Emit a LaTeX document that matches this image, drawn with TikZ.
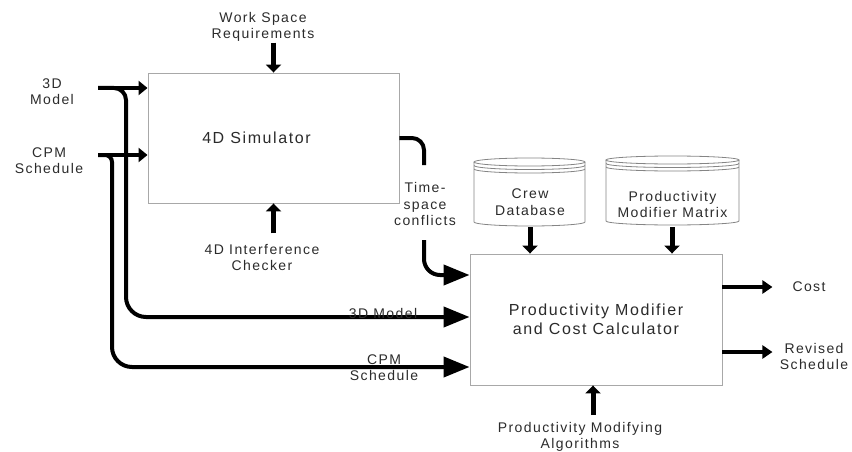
\documentclass[tikz,border=0pt]{standalone}
\usepackage{fontspec}
\setmainfont{Liberation Sans}[LetterSpace=10]
\usetikzlibrary{arrows.meta,calc}
\definecolor{txt}{HTML}{2B2B2B}
\definecolor{boxc}{HTML}{A8A8A8}
\definecolor{cylc}{HTML}{858585}
\begin{document}
\begin{tikzpicture}[x=1pt,y=-1pt,
  small/.style={font=\fontsize{14}{16.5}\selectfont, text=txt, align=center, inner sep=0pt},
  big/.style={font=\fontsize{16}{19}\selectfont, text=txt, align=center},
  procbox/.style={draw=boxc, line width=0.9pt, fill=white, inner sep=0pt},
  cyl/.style={draw=cylc, line width=0.8pt},
  bigarrow/.style={line width=4pt, -{Triangle[length=26pt,width=20pt]}},
  sarrow/.style={line width=4.5pt, -{Triangle[length=9pt,width=14pt]}},
  varrow/.style={line width=5pt, -{Triangle[length=8pt,width=15pt]}},
  oarrow/.style={line width=4pt, -{Triangle[length=10pt,width=13pt]}},
  plainline/.style={line width=4pt}
]
\useasboundingbox (0,0) rectangle (852,452);

% boxes
\node[procbox, minimum width=251pt, minimum height=130pt] (sim) at (273.5,138) {};
\node[big] (simtext) at (256.5,138) {4D Simulator};
\node[procbox, big, minimum width=252pt, minimum height=131pt] (main) at (596,319.5) {Productivity Modifier\\and Cost Calculator};

% cylinders
\fill[white] (474,162) -- (474,222) arc[start angle=180,end angle=360,x radius=55.5pt,y radius=4pt] -- (585,162) -- cycle;
\draw[cyl] (474,162) -- (474,222) arc[start angle=180,end angle=360,x radius=55.5pt,y radius=4pt] -- (585,162);
\draw[cyl] (529.5,162) ellipse[x radius=55.5pt, y radius=4pt];
\draw[cyl] (474,165.5) arc[start angle=180,end angle=360,x radius=55.5pt,y radius=4pt];
\draw[cyl] (474,169) arc[start angle=180,end angle=360,x radius=55.5pt,y radius=4pt];

\fill[white] (606,160) -- (606,221) arc[start angle=180,end angle=360,x radius=66.5pt,y radius=4pt] -- (739,160) -- cycle;
\draw[cyl] (606,160) -- (606,221) arc[start angle=180,end angle=360,x radius=66.5pt,y radius=4pt] -- (739,160);
\draw[cyl] (672.5,160) ellipse[x radius=66.5pt, y radius=4pt];
\draw[cyl] (606,163.5) arc[start angle=180,end angle=360,x radius=66.5pt,y radius=4pt];
\draw[cyl] (606,167) arc[start angle=180,end angle=360,x radius=66.5pt,y radius=4pt];

% labels
\node[small] (wsr) at (263,27) {Work Space\\Requirements};
\node[small] (idc) at (262,257.5) {4D Interference\\Checker};
\node[small] (m3d) at (52,91.5) {3D\\Model};
\node[small] (cpm) at (49,160.5) {CPM\\Schedule};
\node[small] (tsc) at (425,204) {Time-\\space\\conflicts};
\node[small] (cost) at (809,287) {Cost};
\node[small] (rev) at (814,356.5) {Revised\\Schedule};
\node[small] (pma) at (580,437) {Productivity Modifying\\Algorithms};
\node[small] (crew) at (530,202) {Crew\\Database};
\node[small] (pmm) at (672.5,204.5) {Productivity\\Modifier Matrix};

% helper coordinates
\coordinate (a3) at (98,88);
\coordinate (ac) at (98,155);
\coordinate (y275) at (0,275);
\coordinate (y317) at (0,317);
\coordinate (y367) at (0,367);
\coordinate (revy) at (0,352);
\coordinate (ts1) at (424,165);
\coordinate (ts2) at (424,240);
\coordinate (crewb) at (530,227);
\coordinate (pmmb) at (672,227);
\coordinate (pmat) at (593,415);

% vertical arrows
\draw[varrow] ($(sim.north)+(0,-30)$) -- (sim.north);
\draw[varrow] ($(sim.south)+(0,30)$) -- (sim.south);
\draw[varrow] (crewb) -- (crewb |- main.north);
\draw[varrow] (pmmb) -- (pmmb |- main.north);
\draw[varrow] (pmat) -- (pmat |- main.south);

% inputs to simulator
\draw[sarrow] (a3) -- (a3 -| sim.west);
\draw[sarrow] (ac) -- (ac -| sim.west);

% branches to main
\draw[bigarrow] (a3) [rounded corners=12pt] -| (126,250) [rounded corners=20pt] |- (main.west |- y317);
\draw[bigarrow] (ac) [rounded corners=7pt] -| (112,300) [rounded corners=20pt] |- (main.west |- y367);

% time-space conflicts
\draw[plainline, rounded corners=12pt] (sim.east) -| (ts1);
\draw[bigarrow, rounded corners=16pt] (ts2) |- (main.west |- y275);

% outputs
\draw[oarrow] (main.east |- cost) -- ++(50,0);
\draw[oarrow] (main.east |- revy) -- ++(50,0);

% connector labels
\node[small] (l3d) at (383,313) {3D Model};
\node[small] (lcpm) at (384,367.5) {CPM\\Schedule};
\end{tikzpicture}
\end{document}
